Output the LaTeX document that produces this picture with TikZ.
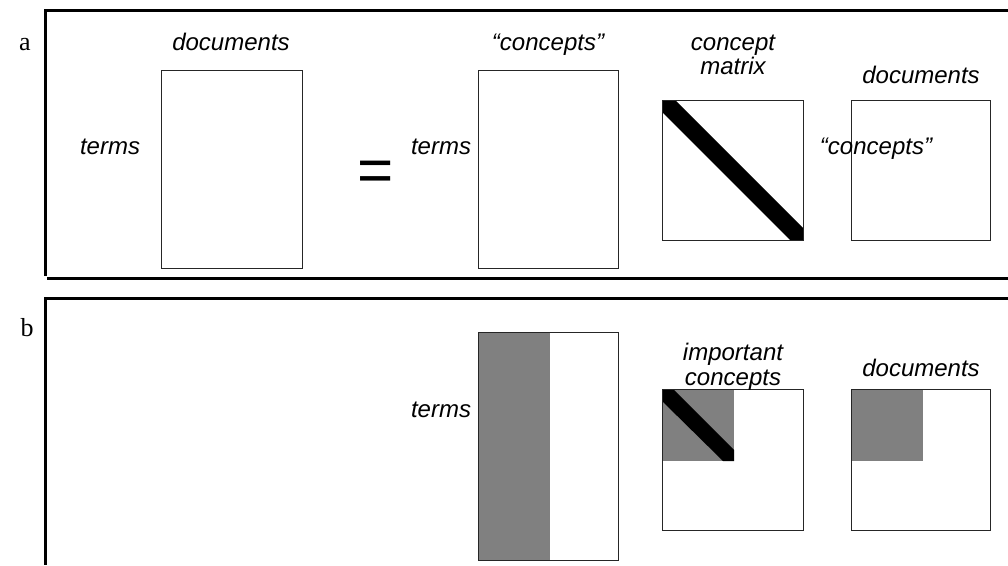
\documentclass[tikz,border=0pt]{standalone}
\usepackage{fontspec}
\setmainfont{Liberation Serif}
\newfontfamily\arialf{Liberation Sans}
\begin{document}
\begin{tikzpicture}[x=1pt,y=-1pt,
  frameline/.style={line width=3pt},
  mbox/.style={draw=black!85,line width=1pt},
  lbl/.style={font=\arialf\itshape\fontsize{24}{28}\selectfont,inner sep=0pt,anchor=base},
  panel/.style={font=\fontsize{26}{30}\selectfont,inner sep=0pt,anchor=base},
  graybox/.style={fill=black!50},
  band/.style={fill=black}]
\useasboundingbox (0,0) rectangle (1008,565);
% frames
\draw[frameline] (45,9) -- (45,276);
\draw[frameline] (47,10) -- (1008,10);
\draw[frameline] (47,278) -- (1008,278);
\draw[frameline] (45,297) -- (45,565);
\draw[frameline] (47,298) -- (1008,298);
\node[panel] (la) at (25,50) {a};
\node[panel] (lb) at (27,336) {b};
% panel a
\draw[mbox] (161,70) rectangle (302,268);
\coordinate (boxA) at (231,169);
\node[lbl] (docA) at (231,50) {documents};
\node[lbl] (termsA) at (110,154) {terms};
\node[font=\arialf\fontsize{62}{70}\selectfont,inner sep=0pt] (eq) at (376,176) {=};
\draw[mbox] (478,70) rectangle (618,268);
\node[lbl] (concA) at (548,50) {“concepts”};
\node[lbl] (termsB) at (441,154) {terms};
\fill[band] (662,100) -- (675,100) -- (803,228) -- (803,240) -- (790,240) -- (662,112) -- cycle;
\draw[mbox] (662,100) rectangle (803,240);
\node[lbl] (cm1) at (733,50) {concept};
\node[lbl] (cm2) at (733,74) {matrix};
\draw[mbox] (851,100) rectangle (990,240);
\node[lbl] (docB) at (921,83) {documents};
\node[lbl] (concB) at (876,154) {“concepts”};
% panel b
\fill[graybox] (478,332) rectangle (550,560);
\draw[mbox] (478,332) rectangle (618,560);
\node[lbl] (termsC) at (441,417) {terms};
\fill[graybox] (662,389) rectangle (734,461);
\fill[band] (662,389) -- (673,389) -- (734,450) -- (734,461) -- (723,461) -- (662,401) -- cycle;
\draw[mbox] (662,389) rectangle (803,530);
\node[lbl] (ic1) at (733,360) {important};
\node[lbl] (ic2) at (733,385) {concepts};
\fill[graybox] (851,389) rectangle (923,461);
\draw[mbox] (851,389) rectangle (990,530);
\node[lbl] (docC) at (921,376) {documents};
\end{tikzpicture}
\end{document}
